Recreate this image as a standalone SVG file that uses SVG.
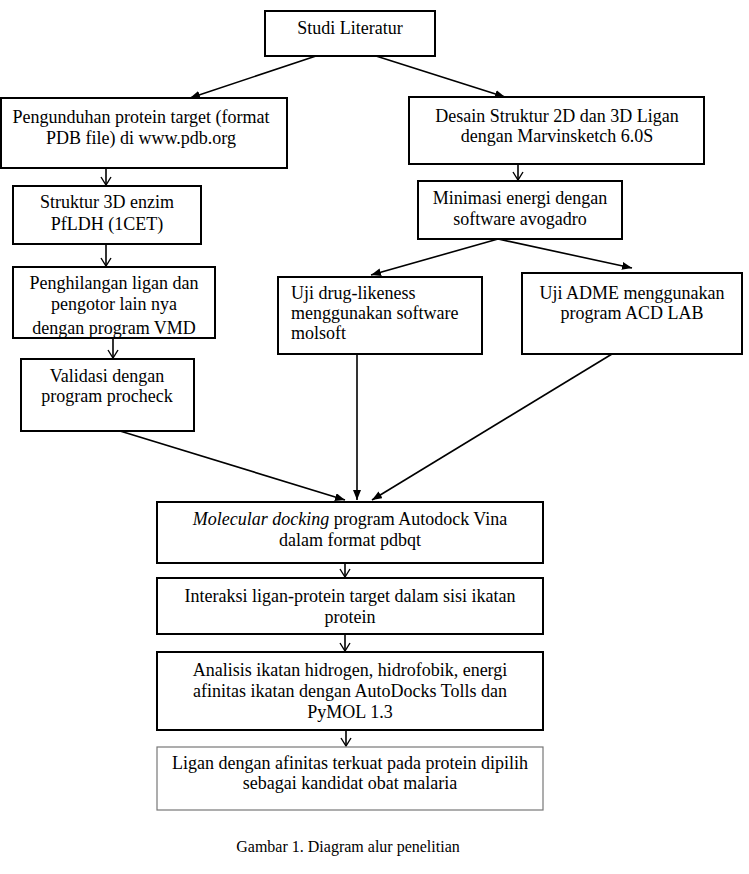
<svg xmlns="http://www.w3.org/2000/svg" width="749" height="874" viewBox="0 0 749 874">
<style>
.box{fill:#fff;stroke:#000;stroke-width:2}
.thin{fill:#fff;stroke:#777;stroke-width:1.2}
text{font-family:"Liberation Serif","Times New Roman",serif;font-size:18px;fill:#000}
.c{text-anchor:middle}
.cap{font-size:16px}
.con line{stroke:#000;stroke-width:1.6}
</style>
<defs>
<marker id="fa" viewBox="0 0 10 8" refX="10" refY="4" markerWidth="10" markerHeight="8" orient="auto" markerUnits="userSpaceOnUse"><path d="M0,0 L10,4 L0,8 z" fill="#000"/></marker>
<marker id="oa" viewBox="0 0 10 12" refX="9" refY="6" markerWidth="10" markerHeight="12" orient="auto" markerUnits="userSpaceOnUse"><path d="M1,1 L9,6 L1,11" fill="none" stroke="#000" stroke-width="1.4"/></marker>
<clipPath id="cp"><rect x="13" y="267" width="202" height="70"/></clipPath>
</defs>
<rect width="749" height="874" fill="#fff"/>
<g class="con">
<line x1="316" y1="56" x2="190" y2="98" marker-end="url(#fa)"/>
<line x1="376" y1="56" x2="505" y2="97" marker-end="url(#fa)"/>
<line x1="106" y1="168" x2="106" y2="185" marker-end="url(#oa)"/>
<line x1="106" y1="244" x2="106" y2="266" marker-end="url(#oa)"/>
<line x1="113" y1="338" x2="113" y2="358" marker-end="url(#oa)"/>
<line x1="120" y1="431" x2="345" y2="500" marker-end="url(#fa)"/>
<line x1="518" y1="164" x2="518" y2="180" marker-end="url(#oa)"/>
<line x1="498" y1="239" x2="371" y2="275" marker-end="url(#fa)"/>
<line x1="498" y1="239" x2="632" y2="268" marker-end="url(#fa)"/>
<line x1="357" y1="354" x2="357" y2="500" marker-end="url(#fa)"/>
<line x1="612" y1="354" x2="372" y2="500" marker-end="url(#fa)"/>
<line x1="345" y1="563" x2="345" y2="577" marker-end="url(#oa)"/>
<line x1="345" y1="634" x2="345" y2="651" marker-end="url(#oa)"/>
<line x1="346" y1="730" x2="346" y2="746" marker-end="url(#oa)"/>
</g>
<g id="studi"><rect class="box" x="265" y="11" width="170" height="45"/><text class="c" x="350" y="34">Studi Literatur</text></g>
<g id="pengunduhan"><rect class="box" x="1" y="98" width="286" height="70"/><text class="c" x="141" y="123">Pengunduhan protein target (format</text><text class="c" x="141" y="144">PDB file) di www.pdb.org</text></g>
<g id="struktur"><rect class="box" x="13" y="186" width="188" height="58"/><text class="c" x="107" y="208">Struktur 3D enzim</text><text class="c" x="107" y="230">PfLDH (1CET)</text></g>
<g id="penghilangan"><rect class="box" x="13" y="267" width="202" height="71"/><g clip-path="url(#cp)"><text class="c" x="114" y="289">Penghilangan ligan dan</text><text class="c" x="114" y="310">pengotor lain nya</text><text class="c" x="114" y="334">dengan program VMD</text></g><rect x="13" y="267" width="202" height="71" fill="none" stroke="#000" stroke-width="2"/></g>
<g id="validasi"><rect class="box" x="21" y="359" width="173" height="72"/><text class="c" x="107" y="382">Validasi dengan</text><text class="c" x="107" y="402">program procheck</text></g>
<g id="desain"><rect class="box" x="409" y="97" width="295" height="67"/><text class="c" x="557" y="122">Desain Struktur 2D dan 3D Ligan</text><text class="c" x="557" y="142">dengan Marvinsketch 6.0S</text></g>
<g id="minimasi"><rect class="box" x="418" y="181" width="204" height="58"/><text class="c" x="520" y="204">Minimasi energi dengan</text><text class="c" x="520" y="225">software avogadro</text></g>
<g id="druglikeness"><rect class="box" x="278" y="277" width="204" height="77"/><text x="291" y="299">Uji drug-likeness</text><text x="291" y="319">menggunakan software</text><text x="291" y="339">molsoft</text></g>
<g id="adme"><rect class="box" x="522" y="273" width="220" height="81"/><text class="c" x="632" y="299">Uji ADME menggunakan</text><text class="c" x="632" y="319">program ACD LAB</text></g>
<g id="docking"><rect class="box" x="157" y="502" width="386" height="61"/><text class="c" x="350" y="525"><tspan font-style="italic">Molecular docking</tspan> program Autodock Vina</text><text class="c" x="350" y="546">dalam format pdbqt</text></g>
<g id="interaksi"><rect class="box" x="157" y="578" width="386" height="56"/><text class="c" x="350" y="602">Interaksi ligan-protein target dalam sisi ikatan</text><text class="c" x="350" y="623">protein</text></g>
<g id="analisis"><rect class="box" x="157" y="652" width="386" height="78"/><text class="c" x="350" y="676">Analisis ikatan hidrogen, hidrofobik, energi</text><text class="c" x="350" y="697">afinitas ikatan dengan AutoDocks Tolls dan</text><text class="c" x="350" y="718">PyMOL 1.3</text></g>
<g id="ligan"><rect class="thin" x="157" y="747" width="386" height="63"/><text class="c" x="350" y="769">Ligan dengan afinitas terkuat pada protein dipilih</text><text class="c" x="350" y="789">sebagai kandidat obat malaria</text></g>
<g id="caption"><text class="c cap" x="348" y="852">Gambar 1. Diagram alur penelitian</text></g>
</svg>
